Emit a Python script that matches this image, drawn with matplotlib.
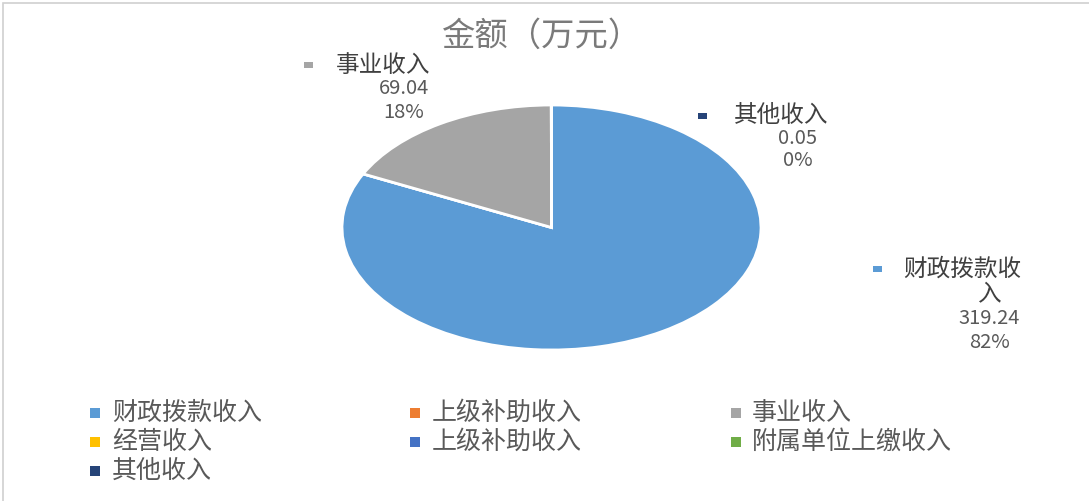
import matplotlib
matplotlib.use("Agg")
import matplotlib.pyplot as plt
from matplotlib.patches import Rectangle

plt.rcParams['font.family'] = ['Noto Sans CJK SC', 'DejaVu Sans']

title = "金额（万元）"
categories = ["财政拨款收入", "上级补助收入", "事业收入", "经营收入",
              "上级补助收入", "附属单位上缴收入", "其他收入"]
values = [319.24, 0, 69.04, 0, 0, 0, 0.05]
value_labels = ["319.24", "0", "69.04", "0", "0", "0", "0.05"]
percent_labels = ["82%", "0%", "18%", "0%", "0%", "0%", "0%"]
colors = ["#5B9BD5", "#ED7D31", "#A5A5A5", "#FFC000",
          "#4472C4", "#70AD47", "#264478"]

W, H = 1089, 501
fig = plt.figure(figsize=(W / 100, H / 100), dpi=100)
fig.patch.set_facecolor("white")

def fx(px):
    return px / W

def fy(py):
    return 1 - py / H

# chart border (top and left visible)
fig.patches.append(Rectangle((fx(3), fy(540)), fx(1200), fy(3) - fy(540),
                             transform=fig.transFigure, fill=False,
                             edgecolor="#D0D0D0", linewidth=1.2))

# pie (elliptical as in reference)
left, right, top, bottom = 342, 761, 105, 350
ax = fig.add_axes([fx(left), fy(bottom), fx(right - left), fy(top) - fy(bottom)])
ax.pie(values, colors=colors, startangle=90, counterclock=False,
       wedgeprops=dict(edgecolor="white", linewidth=2))
ax.set_xlim(-1, 1)
ax.set_ylim(-1, 1)
ax.set_aspect("auto")
ax.axis("off")

# title
fig.text(fx(541), fy(36), title, ha="center", va="center",
         fontsize=24, color="#7a7a7a", fontweight="light")

name_color = "#404040"
val_color = "#595959"

def label_block(idx, marker_x, name_x, name_y, name_text, val_x, val_y, pct_y, extra=None):
    fig.patches.append(Rectangle((fx(marker_x), fy(name_y + 3)), fx(9), fy(0) - fy(6),
                                 transform=fig.transFigure,
                                 facecolor=colors[idx], edgecolor="none"))
    fig.text(fx(name_x), fy(name_y), name_text, ha="left", va="center",
             fontsize=17, color=name_color)
    if extra is not None:
        fig.text(fx(val_x), fy(extra[1]), extra[0], ha="center", va="center",
                 fontsize=17, color=name_color)
    fig.text(fx(val_x), fy(val_y), value_labels[idx], ha="center", va="center",
             fontsize=14.5, color=val_color)
    fig.text(fx(val_x), fy(pct_y), percent_labels[idx], ha="center", va="center",
             fontsize=14.5, color=val_color)

# data labels
label_block(2, 304, 336, 65, categories[2], 404, 89, 113)
label_block(6, 698, 734, 116, categories[6], 798, 138, 161)
label_block(0, 873, 903, 269, categories[0][:5], 989, 319, 342,
            extra=(categories[0][5:], 295))

# legend (3 columns)
col_marker = [90, 410, 731]
col_text = [112, 432, 752]
row_y = [413, 442, 471]
for i, cat in enumerate(categories):
    r, c = divmod(i, 3)
    y = row_y[r]
    fig.patches.append(Rectangle((fx(col_marker[c]), fy(y + 5)), fx(10), fy(0) - fy(10),
                                 transform=fig.transFigure,
                                 facecolor=colors[i], edgecolor="none"))
    fig.text(fx(col_text[c]), fy(y), cat, ha="left", va="center",
             fontsize=18, color="#595959")

fig.savefig("out.png", dpi=100, facecolor="white")
